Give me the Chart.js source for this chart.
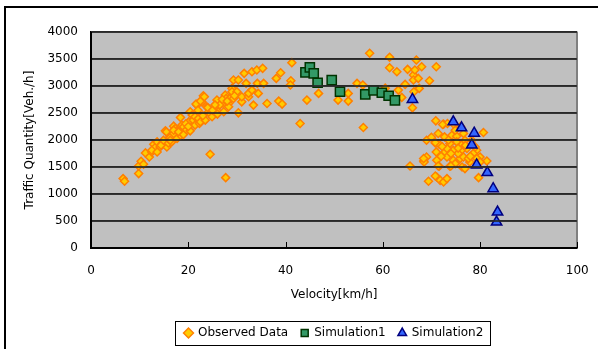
<!DOCTYPE html>
<html>
<head>
<meta charset="utf-8">
<script src="https://cdn.jsdelivr.net/npm/chart.js@4.4.0/dist/chart.umd.min.js"></script>
<style>
  html, body { margin: 0; padding: 0; background: #fff; }
  #wrap { position: relative; width: 598px; height: 349px; overflow: hidden; }
  #frame { position: absolute; left: 4px; top: 6px; width: 700px; height: 500px; border: 2px solid #000; }
  #plotBg { position: absolute; background: #c0c0c0; }
  #legendBg { position: absolute; background: #fff; border: 1px solid #000; }
  #rules { position: absolute; left: 0; top: 0; width: 598px; height: 349px; pointer-events: none; }
  .rule { position: absolute; }
  #flowChart { position: absolute; left: 0; top: 0; }
</style>
</head>
<body>
<div id="wrap">
  <div id="frame"></div>
  <div id="plotBg"></div>
  <div id="legendBg"></div>
  <canvas id="flowChart" width="598" height="349"></canvas>
  <div id="rules"></div>
</div>
<script>
var obsVelocity = [6.6, 6.9, 9.8, 9.8, 10.3, 10.8, 11.2, 12.0, 12.5, 12.9, 13.2, 13.6, 14.2, 14.6, 14.9, 15.3, 15.6, 15.9, 15.9, 16.3,
    16.6, 17.0, 17.0, 17.3, 17.7, 17.8, 18.4, 18.4, 18.7, 19.0, 19.4, 20.1, 20.4, 20.4, 20.8, 21.0, 21.4, 21.4, 21.8, 22.1,
    22.3, 22.5, 22.8, 23.1, 23.5, 23.8, 24.2, 24.5, 24.5, 24.9, 25.5, 25.9, 26.1, 27.2, 27.3, 27.6, 27.7, 27.8, 28.3, 28.3,
    28.6, 29.0, 29.0, 29.3, 29.3, 30.0, 30.3, 30.3, 31.0, 31.0, 31.5, 31.9, 32.4, 32.4, 33.1, 33.1, 33.4, 34.1, 34.2, 34.4,
    35.3, 35.5, 36.2, 38.1, 39.0, 38.6, 39.3, 41.1, 41.0, 41.3, 43.0, 44.4, 46.8, 50.8, 52.9, 52.9, 54.7, 55.9, 56.0, 57.3,
    60.5, 61.4, 61.4, 62.9, 63.2, 63.9, 64.6, 65.1, 66.3, 66.3, 66.4, 66.6, 66.9, 67.3, 67.5, 68.0, 69.6, 71.0, 66.1,
    12.5, 13.6, 14.4, 14.9, 15.5, 16.3, 17.0, 19.5, 20.0, 18.0, 19.0, 21.6, 22.5, 23.3,
    24.0, 25.0, 26.5, 27.0, 28.0, 29.5, 26.0, 23.0, 22.0, 25.5,
    70.9, 72.5, 73.3, 71.4, 69.0, 70.8, 71.6, 72.7, 74.2, 75.2, 73.8, 75.9, 71.0, 72.8, 74.5, 76.2, 77.3, 79.3, 69.0, 68.4,
    71.1, 71.6, 73.2, 74.5, 75.9, 73.8, 76.3, 76.9, 77.9, 80.0, 81.4, 80.7, 65.6, 69.4, 71.1, 71.8, 72.5, 73.2, 79.7, 78.3,
    79.0, 79.3, 74.9, 76.6, 76.9, 75.2, 73.2, 75.5, 76.6, 77.6, 74.9, 78.6, 80.0, 68.5, 70.8, 71.4, 74.0, 72.0, 73.5, 74.0,
    75.5, 77.0, 78.0, 72.2, 70.0, 76.0, 74.5, 72.3, 70.8, 68.4];
var obsTraffic = [1285, 1235, 1378, 1519, 1606, 1550, 1761, 1686, 1779, 1922, 1860, 1965, 1872, 1935, 1978, 2169, 1872, 1946, 2028, 2046,
    1965, 2120, 2256, 2213, 2028, 2169, 2089, 2418, 2275, 2243, 2169, 2336, 2169, 2522, 2461, 2368, 2275, 2430, 2646, 2399,
    2306, 2336, 2707, 2819, 2368, 2615, 2522, 2492, 1736, 2430, 2522, 2739, 2522, 2677, 2522, 2832, 1303, 2770, 2677, 2615,
    2770, 2956, 2893, 3110, 2770, 2893, 3110, 2503, 2707, 2800, 3234, 3049, 2800, 2863, 3265, 2924, 2646, 3296, 3049, 2863,
    3327, 3049, 2677, 3141, 3246, 2720, 2665, 3097, 3018, 3432, 2306, 2739, 2863, 2739, 2863, 2720, 3049, 3018, 2232, 3606,
    2960, 3532, 3339, 3265, 2924, 2789, 3030, 3308, 3203, 3110, 2893, 3296, 3482, 3141, 2956, 3357, 3097, 3357, 2596,
    1810, 1779, 1903, 1996, 2150, 1996, 2182, 2300, 2250, 2151, 2100, 2665, 2720, 2800,
    2600, 2550, 2650, 2750, 2720, 2820, 2480, 2450, 2550, 2650,
    2355, 2293, 2306, 2120, 1996, 1946, 1922, 2058, 2089, 2071, 1935, 1935, 1779, 1779, 1811, 1811, 1842, 1811, 1686, 1612,
    1625, 1513, 1686, 1625, 1656, 1513, 1501, 1470, 1593, 1686, 1612, 2139, 1519, 1235, 1315, 1253, 1222, 1285, 1303, 1996,
    1872, 1660, 2182, 2120, 1996, 1965, 1842, 1749, 1686, 1656, 1563, 1749, 1593, 1593, 1334, 1519, 1519, 1700, 2000, 1750,
    1850, 1900, 1700, 1880, 2050, 2250, 2300, 2288, 1953, 1656];

var sim1Velocity = [44.1, 45.0, 45.8, 46.6, 49.5, 51.2, 56.4, 58.1, 59.8, 61.2, 62.5];
var sim1Traffic = [3253, 3346, 3235, 3060, 3110, 2893, 2845, 2919, 2875, 2819, 2733];

var sim2Velocity = [66.1, 74.5, 76.2, 78.8, 78.3, 79.3, 81.5, 82.7, 83.6, 83.4];
var sim2Traffic = [2752, 2336, 2225, 2126, 1909, 1538, 1396, 1099, 665, 480];

var xTicks = [0, 20, 40, 60, 80, 100];
var yTicks = [0, 500, 1000, 1500, 2000, 2500, 3000, 3500, 4000];

function toPoints(xs, ys) {
    return xs.map(function (x, i) { return { x: x, y: ys[i] }; });
}

Chart.defaults.font.family = 'DejaVu Sans';
Chart.defaults.font.size = 12;
Chart.defaults.color = '#000';

var flowChart = new Chart(document.getElementById('flowChart').getContext('2d'), {
    type: 'scatter',
    data: {
        datasets: [{
            label: 'Observed Data',
            data: toPoints(obsVelocity, obsTraffic),
            pointStyle: 'rectRot',
            pointRadius: 4,
            backgroundColor: '#ffcc00',
            borderColor: '#ff8000',
            borderWidth: 1.5,
            order: 3
        }, {
            label: 'Simulation1',
            data: toPoints(sim1Velocity, sim1Traffic),
            pointStyle: 'rect',
            pointRadius: 6.5,
            backgroundColor: '#339966',
            borderColor: '#003300',
            borderWidth: 1.5,
            order: 2
        }, {
            label: 'Simulation2',
            data: toPoints(sim2Velocity, sim2Traffic),
            pointStyle: 'triangle',
            pointRadius: 6,
            backgroundColor: '#3366ff',
            borderColor: '#000080',
            borderWidth: 1.5,
            order: 1
        }]
    },
    options: {
        responsive: false,
        animation: false,
        events: [],
        layout: { padding: { left: 0, right: 20.7, top: 32, bottom: 0 } },
        plugins: {
            tooltip: { enabled: false },
            legend: {
                position: 'bottom',
                fullSize: false,
                labels: {
                    usePointStyle: true,
                    boxWidth: 7,
                    boxHeight: 7,
                    padding: 13,
                    sort: function (a, b) { return a.datasetIndex - b.datasetIndex; }
                }
            }
        },
        scales: {
            x: {
                type: 'linear',
                min: 0,
                max: 100,
                afterBuildTicks: function (s) { s.ticks = xTicks.map(function (v) { return { value: v }; }); },
                afterFit: function (s) { s.height = 66; },
                ticks: { padding: 2, callback: function (v) { return String(v); } },
                grid: { display: true, drawOnChartArea: true, color: 'rgba(0,0,0,0)', lineWidth: 1, tickLength: 14 },
                border: { display: true, color: '#000', width: 1.5 },
                title: { display: true, text: 'Velocity[km/h]', padding: { top: 0, bottom: 12 } }
            },
            y: {
                type: 'linear',
                min: 0,
                max: 4000,
                afterBuildTicks: function (s) { s.ticks = yTicks.map(function (v) { return { value: v }; }); },
                afterFit: function (s) { s.width = 91; },
                ticks: { padding: 13, callback: function (v) { return String(v); } },
                grid: { display: true, drawOnChartArea: true, drawTicks: false, color: '#333333', lineWidth: 1.5 },
                border: { display: true, color: '#000', width: 1.5 },
                title: { display: true, text: 'Traffic Quantity[Veh./h]', padding: { top: 23, bottom: 0 } }
            }
        }
    }
});

// backgrounds and rules placed from the chart's own scales
var area = flowChart.chartArea;
var xScale = flowChart.scales.x, yScale = flowChart.scales.y;
var rules = document.getElementById('rules');
function addRule(l, t, w, h, color) {
    var d = document.createElement('div');
    d.className = 'rule';
    d.style.left = l + 'px';
    d.style.top = t + 'px';
    d.style.width = w + 'px';
    d.style.height = h + 'px';
    d.style.backgroundColor = color;
    rules.appendChild(d);
}
var bg = document.getElementById('plotBg');
bg.style.left = area.left + 'px';
bg.style.top = area.top + 'px';
bg.style.width = (area.right - area.left) + 'px';
bg.style.height = (area.bottom - area.top) + 'px';

var pL = Math.round(area.left), pR = Math.round(area.right);
var pT = Math.round(area.top), pB = Math.round(area.bottom);
addRule(pR - 1, pT, 2, pB - pT, '#808080');
yTicks.forEach(function (v) {
    var py = Math.round(yScale.getPixelForValue(v));
    addRule(pL, py - 1, pR - pL, 2, 'rgba(40,40,40,0.85)');
});
xTicks.forEach(function (v) {
    var px = Math.round(xScale.getPixelForValue(v));
    addRule(px, pB - 6, 1, 6, '#000');
});
addRule(pL - 1, pT, 2, pB - pT + 1, '#000');
addRule(pL - 1, pB - 1, pR - pL + 1, 2, '#000');

var hb = flowChart.legend.legendHitBoxes;
var lb = document.getElementById('legendBg');
var lLeft = Math.round(hb[0].left - 10);
var lRight = Math.round(hb[hb.length - 1].left + hb[hb.length - 1].width + 6);
var lMid = Math.round(hb[0].top + hb[0].height / 2);
lb.style.left = lLeft + 'px';
lb.style.top = (lMid - 12) + 'px';
lb.style.width = (lRight - lLeft) + 'px';
lb.style.height = '23px';
</script>
</body>
</html>
